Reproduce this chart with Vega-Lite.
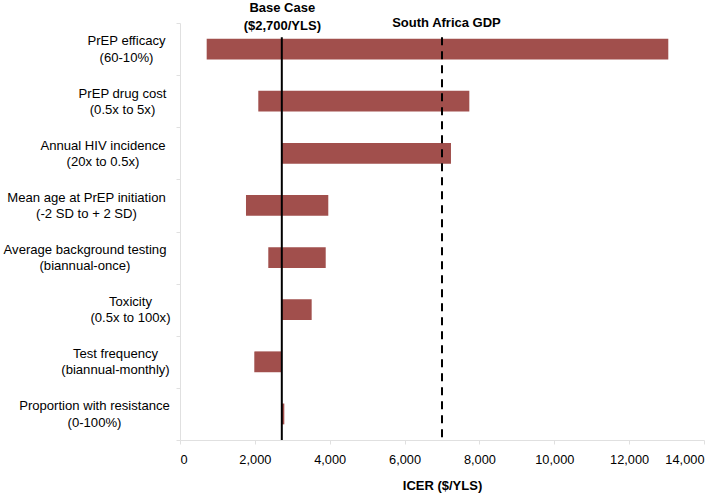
{
  "$schema": "https://vega.github.io/schema/vega-lite/v6.json",
  "width": 524,
  "height": 417,
  "autosize": "none",
  "padding": {"left": 180, "top": 23, "right": 21, "bottom": 54},
  "background": "white",
  "config": {
    "font": "Liberation Sans",
    "view": {"stroke": null},
    "axis": {"labelColor": "#000", "titleColor": "#000", "domainColor": "#e0e0e0", "tickColor": "#e0e0e0", "grid": false}
  },
  "datasets": {
    "bars": [
      {"factor": "PrEP efficacy|(60-10%)", "low": 713, "high": 13046},
      {"factor": "PrEP drug cost|(0.5x to 5x)", "low": 2092, "high": 7730},
      {"factor": "Annual HIV incidence|(20x to 0.5x)", "low": 2720, "high": 7240},
      {"factor": "Mean age at PrEP initiation|(-2 SD to + 2 SD)", "low": 1763, "high": 3962},
      {"factor": "Average background testing|(biannual-once)", "low": 2359, "high": 3893},
      {"factor": "Toxicity|(0.5x to 100x)", "low": 2720, "high": 3518},
      {"factor": "Test frequency|(biannual-monthly)", "low": 1985, "high": 2720},
      {"factor": "Proportion with resistance|(0-100%)", "low": 2720, "high": 2787}
    ],
    "refs": [
      {"name": "Base Case ($2,700/YLS)", "value": 2720},
      {"name": "South Africa GDP", "value": 7000}
    ]
  },
  "layer": [
    {
      "data": {"name": "bars"},
      "mark": {"type": "bar", "color": "#a14f4c", "height": {"band": 0.4}},
      "encoding": {
        "y": {
          "field": "factor",
          "type": "nominal",
          "scale": {
            "domain": [
              "PrEP efficacy|(60-10%)",
              "PrEP drug cost|(0.5x to 5x)",
              "Annual HIV incidence|(20x to 0.5x)",
              "Mean age at PrEP initiation|(-2 SD to + 2 SD)",
              "Average background testing|(biannual-once)",
              "Toxicity|(0.5x to 100x)",
              "Test frequency|(biannual-monthly)",
              "Proportion with resistance|(0-100%)"
            ],
            "paddingInner": 0,
            "paddingOuter": 0
          },
          "axis": {
            "title": null,
            "labelExpr": "split(datum.label, '|')",
            "labelAlign": "center",
            "labelBaseline": "middle",
            "labelFontSize": 13.1,
            "labelLineHeight": 16.3,
            "labelOffset": -8.15,
            "labelLimit": 0,
            "tickBand": "extent",
            "tickSize": 4,
            "labelPadding": {
              "condition": [
                {"test": "datum.value == 'PrEP efficacy|(60-10%)'", "value": 50},
                {"test": "datum.value == 'PrEP drug cost|(0.5x to 5x)'", "value": 54},
                {"test": "datum.value == 'Annual HIV incidence|(20x to 0.5x)'", "value": 73.5},
                {"test": "datum.value == 'Mean age at PrEP initiation|(-2 SD to + 2 SD)'", "value": 90},
                {"test": "datum.value == 'Average background testing|(biannual-once)'", "value": 91.5},
                {"test": "datum.value == 'Toxicity|(0.5x to 100x)'", "value": 46},
                {"test": "datum.value == 'Test frequency|(biannual-monthly)'", "value": 61}
              ],
              "value": 82
            }
          }
        },
        "x": {
          "field": "low",
          "type": "quantitative",
          "scale": {"domain": [0, 14000], "nice": false},
          "axis": {
            "title": "ICER ($/YLS)",
            "values": [0, 2000, 4000, 6000, 8000, 10000, 12000, 14000],
            "format": ",d",
            "tickSize": 4,
            "labelPadding": 9,
            "labelFontSize": 12.8,
            "titleFontSize": 13,
            "titleFontWeight": "bold",
            "titlePadding": 14
          }
        },
        "x2": {"field": "high"}
      }
    },
    {
      "data": {"name": "refs"},
      "mark": {"type": "rule", "color": "#000", "strokeWidth": 2},
      "encoding": {
        "x": {
          "field": "value",
          "type": "quantitative",
          "axis": {
            "orient": "top",
            "values": [2720, 7000],
            "labelExpr": "datum.value == 7000 ? 'South Africa GDP' : ['Base Case', '($2,700/YLS)']",
            "domain": false,
            "ticks": false,
            "title": null,
            "labelFontWeight": "bold",
            "labelFontSize": 13,
            "labelLineHeight": 18.3,
            "labelBaseline": "middle",
            "labelOverlap": false,
            "labelPadding": {"condition": {"test": "datum.value == 7000", "value": 1}, "value": 15.5},
            "labelOffset": {"condition": {"test": "datum.value == 7000", "value": 4}, "value": 0}
          }
        },
        "y": {
          "datum": 0.966,
          "type": "quantitative",
          "scale": {"domain": [0, 1], "nice": false, "zero": true},
          "axis": null
        },
        "y2": {"datum": 0},
        "strokeDash": {"condition": {"test": "datum.value == 7000", "value": [8, 6]}, "value": [1, 0]}
      }
    }
  ],
  "resolve": {"axis": {"x": "independent", "y": "independent"}, "scale": {"y": "independent"}}
}
